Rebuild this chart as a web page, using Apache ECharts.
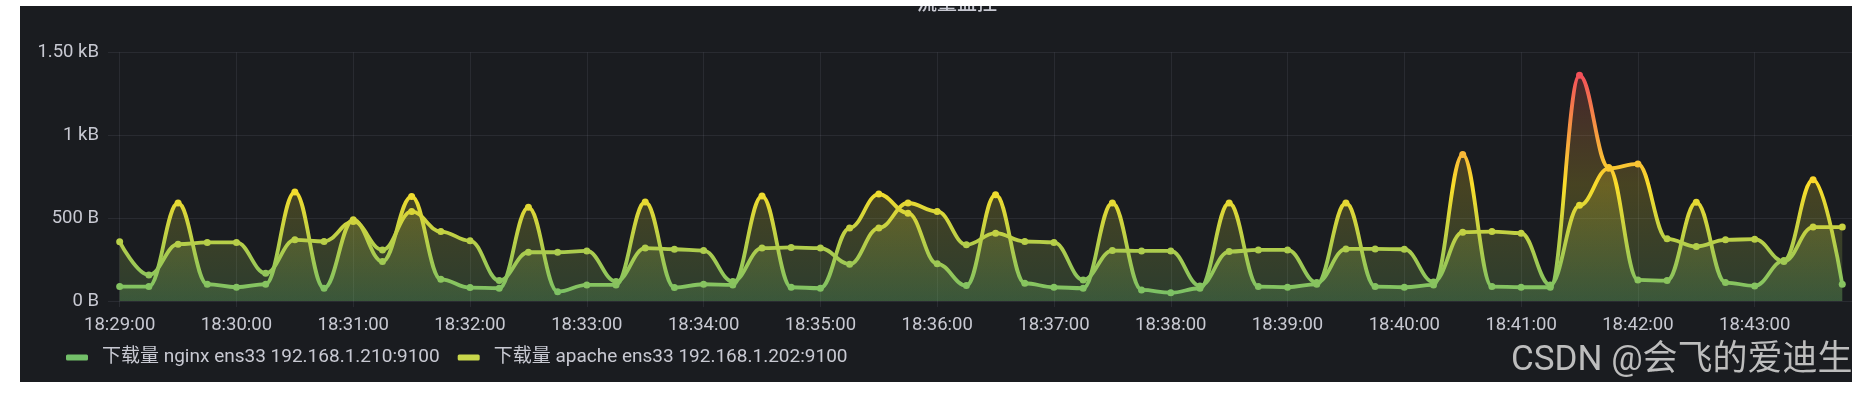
<!DOCTYPE html>
<html>
<head>
<meta charset="utf-8">
<script src="https://cdn.jsdelivr.net/npm/echarts@6/dist/echarts.min.js"></script>
<style>
html,body{margin:0;padding:0;background:#ffffff;}
#c{width:1870px;height:394px;}
</style>
</head>
<body>
<div id="c"></div>
<script>
// ---- data ----
const titleText = '流量监控';
const watermarkText = 'CSDN @会飞的爱迪生';
const seriesNames = ['下载量 nginx ens33 192.168.1.210:9100', '下载量 apache ens33 192.168.1.202:9100'];
const startTime = '18:29:00';
const stepSeconds = 15;
const xAxisMin = '18:28:54';
const xAxisMax = '18:43:50';
const nginxValues = [87,87,591,101,83,101,657,77,490,238,
  631,131,81,77,565,56,97,97,597,81,
  101,97,633,83,77,440,645,530,224,93,
  641,107,83,77,591,67,50,77,591,87,
  83,101,591,87,83,97,883,87,83,83,
  1361,805,127,123,595,111,91,244,732,101];
const apacheValues = [357,157,343,353,353,167,369,359,480,308,
  540,419,363,123,294,294,302,117,319,312,
  304,117,319,323,319,222,440,591,540,339,
  409,359,353,127,304,302,302,91,298,308,
  308,111,314,314,312,115,415,419,409,97,
  577,800,827,375,329,369,373,238,446,446];
const xTickLabels = ['18:29:00','18:30:00','18:31:00','18:32:00','18:33:00','18:34:00','18:35:00',
  '18:36:00','18:37:00','18:38:00','18:39:00','18:40:00','18:41:00','18:42:00','18:43:00'];
const yTickValues = [0, 500, 1000, 1500];
const yTickLabels = ['0 B', '500 B', '1 kB', '1.50 kB'];

// ---- build ----
function secs(hms) { const p = hms.split(':').map(Number); return p[0] * 3600 + p[1] * 60 + p[2]; }
const t0 = secs(startTime);
const times = nginxValues.map((_, i) => t0 + i * stepSeconds);
const xTickValues = xTickLabels.map(secs);

const textColor = '#c8c9d2';
const gridColor = 'rgba(204,204,220,0.09)';
const panelColor = '#1a1c20';
const font = 'Roboto, "Noto Sans CJK SC", sans-serif';

const chart = echarts.init(document.getElementById('c'), null, {renderer: 'canvas', width: 1870, height: 394});

function makeSeries(name, values) {
  return {
    name: name,
    type: 'line',
    data: times.map((t, i) => [t, values[i]]),
    smooth: 0.4,
    smoothMonotone: 'x',
    symbol: 'circle',
    symbolSize: 7,
    showSymbol: true,
    lineStyle: {width: 3.8},
    areaStyle: {opacity: 0.2},
    emphasis: {disabled: true},
    silent: true
  };
}

chart.setOption({
  backgroundColor: '#ffffff',
  animation: false,
  textStyle: {fontFamily: font},
  grid: {left: 108, right: 18, top: 52.3, bottom: 93, containLabel: false},
  xAxis: {
    type: 'value',
    min: secs(xAxisMin),
    max: secs(xAxisMax),
    axisLine: {show: false},
    axisTick: {show: true, length: 6, customValues: xTickValues, lineStyle: {color: gridColor}},
    axisLabel: {
      customValues: xTickValues,
      formatter: function (v) { const i = xTickValues.indexOf(v); return i >= 0 ? xTickLabels[i] : ''; },
      color: textColor, fontSize: 18.5, fontFamily: font, margin: 15, hideOverlap: false,
      showMinLabel: true, showMaxLabel: true
    },
    splitLine: {show: true, lineStyle: {color: gridColor, width: 1}}
  },
  yAxis: {
    type: 'value',
    min: 0, max: 1500, interval: 500,
    axisLine: {show: false},
    axisTick: {show: false},
    axisLabel: {
      formatter: function (v) { const i = yTickValues.indexOf(v); return i >= 0 ? yTickLabels[i] : ''; },
      color: textColor, fontSize: 18.5, fontFamily: font, margin: 9
    },
    splitLine: {show: true, lineStyle: {color: gridColor, width: 1}}
  },
  visualMap: {
    type: 'continuous', show: false, min: 0, max: 1400, dimension: 1, seriesIndex: [0, 1],
    inRange: {color: ['#73BF69', '#FADE2A', '#F2495C']}
  },
  legend: {
    left: 61, top: 343,
    itemWidth: 22, itemHeight: 6, itemGap: 18,
    icon: 'roundRect',
    selectedMode: false,
    textStyle: {color: textColor, fontSize: 19, fontFamily: font, padding: [0, 0, 0, 9]},
    data: [
      {name: seriesNames[0], itemStyle: {color: '#73BF69'}},
      {name: seriesNames[1], itemStyle: {color: '#C9D74B'}}
    ]
  },
  graphic: {elements: [
    {type: 'rect', shape: {x: 20, y: 6, width: 1832, height: 376}, style: {fill: panelColor}, z: -10, silent: true},
    {type: 'text', x: 957, y: 12, style: {text: titleText, fill: textColor, font: '500 20px "Noto Sans CJK SC"', align: 'center', verticalAlign: 'bottom'}, z: 50, silent: true},
    {type: 'rect', shape: {x: 0, y: 0, width: 1870, height: 6}, style: {fill: '#ffffff'}, z: 60, silent: true},
    {type: 'text', x: 1511, y: 361, style: {text: watermarkText, fill: '#bdbdbd', font: '35px Roboto, "Noto Sans CJK SC"', align: 'left', verticalAlign: 'middle'}, z: 70, silent: true}
  ]},
  series: [makeSeries(seriesNames[0], nginxValues), makeSeries(seriesNames[1], apacheValues)]
});
</script>
</body>
</html>
